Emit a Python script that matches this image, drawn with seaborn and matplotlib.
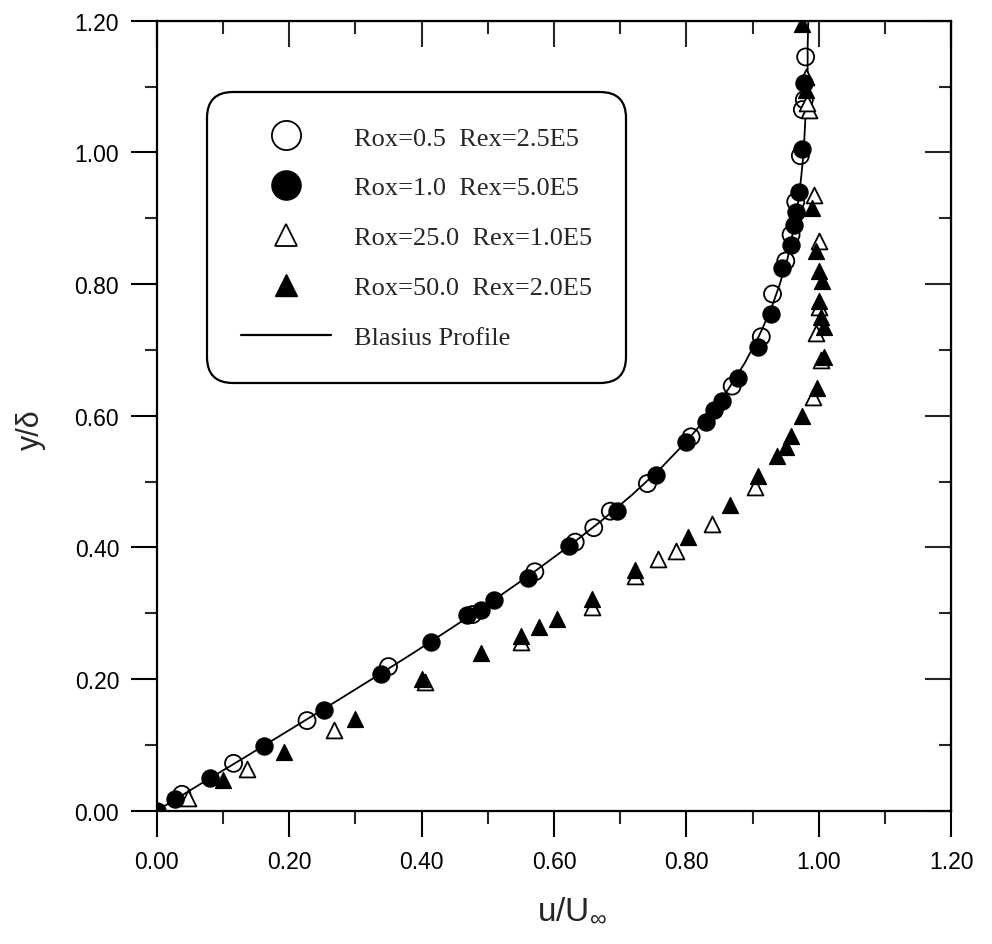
import matplotlib
matplotlib.use("Agg")
import matplotlib.pyplot as plt
import seaborn as sns
import pandas as pd
from matplotlib.lines import Line2D
from matplotlib.ticker import MultipleLocator, FormatStrFormatter, NullFormatter

# Rox=0.5 Rex=2.5E5 (open circles)
rox05_u = [0.038, 0.116, 0.227, 0.350, 0.477, 0.571, 0.632, 0.660, 0.685,
           0.741, 0.807, 0.869, 0.913, 0.930, 0.950, 0.958, 0.965, 0.972, 0.975, 0.978, 0.980]
rox05_y = [0.025, 0.072, 0.137, 0.219, 0.298, 0.363, 0.408, 0.430, 0.455,
           0.497, 0.568, 0.645, 0.720, 0.785, 0.835, 0.875, 0.925, 0.995, 1.065, 1.080, 1.145]

# Rox=1.0 Rex=5.0E5 (filled circles)
rox10_u = [0.000, 0.028, 0.081, 0.162, 0.253, 0.339, 0.414, 0.468, 0.489, 0.510,
           0.560, 0.623, 0.695, 0.754, 0.800, 0.830, 0.842, 0.853, 0.878, 0.908,
           0.928, 0.945, 0.958, 0.962, 0.966, 0.970, 0.975, 0.978]
rox10_y = [0.000, 0.018, 0.050, 0.098, 0.153, 0.207, 0.256, 0.297, 0.305, 0.320,
           0.354, 0.402, 0.455, 0.510, 0.560, 0.591, 0.608, 0.623, 0.657, 0.705,
           0.755, 0.825, 0.860, 0.890, 0.910, 0.940, 1.005, 1.105]

# Rox=25.0 Rex=1.0E5 (open triangles)
rox25_u = [0.047, 0.137, 0.267, 0.405, 0.550, 0.657, 0.723, 0.757, 0.784, 0.838,
           0.903, 0.991, 1.003, 0.995, 1.000, 1.000, 0.992, 0.985, 0.982, 0.980]
rox25_y = [0.020, 0.063, 0.122, 0.195, 0.256, 0.310, 0.357, 0.382, 0.394, 0.435,
           0.492, 0.629, 0.685, 0.725, 0.765, 0.865, 0.935, 1.065, 1.075, 1.115]

# Rox=50.0 Rex=2.0E5 (filled triangles)
rox50_u = [0.100, 0.192, 0.300, 0.400, 0.490, 0.550, 0.578, 0.604, 0.657, 0.723,
           0.803, 0.866, 0.908, 0.936, 0.950, 0.958, 0.975, 0.997, 1.007, 1.007,
           1.003, 1.000, 1.005, 1.000, 0.995, 0.990, 0.980, 0.975]
rox50_y = [0.046, 0.089, 0.140, 0.200, 0.240, 0.266, 0.279, 0.292, 0.321, 0.365,
           0.416, 0.465, 0.508, 0.539, 0.552, 0.569, 0.599, 0.642, 0.689, 0.735,
           0.750, 0.775, 0.805, 0.820, 0.850, 0.915, 1.095, 1.195]

# Blasius profile
blasius_u = [0.000, 0.065, 0.131, 0.196, 0.261, 0.325, 0.388, 0.449, 0.509, 0.566,
             0.620, 0.671, 0.718, 0.761, 0.799, 0.833, 0.863, 0.888, 0.909, 0.927,
             0.941, 0.953, 0.961, 0.968, 0.973, 0.977, 0.979, 0.981, 0.983, 0.983, 0.984]
blasius_y = [0.00, 0.04, 0.08, 0.12, 0.16, 0.20, 0.24, 0.28, 0.32, 0.36,
             0.40, 0.44, 0.48, 0.52, 0.56, 0.60, 0.64, 0.68, 0.72, 0.76,
             0.80, 0.84, 0.88, 0.92, 0.96, 1.00, 1.04, 1.08, 1.12, 1.16, 1.20]

labels = ["Rox=0.5  Rex=2.5E5", "Rox=1.0  Rex=5.0E5",
          "Rox=25.0  Rex=1.0E5", "Rox=50.0  Rex=2.0E5", "Blasius Profile"]

sns.set_style("ticks")
plt.rcParams['font.family'] = ['Liberation Sans', 'DejaVu Sans']
plt.rcParams['mathtext.fontset'] = 'custom'
plt.rcParams['mathtext.rm'] = 'Liberation Sans'

fig = plt.figure(figsize=(9.92, 9.45), dpi=100)
ax = fig.add_axes([0.158, 0.141, 0.801, 0.836])

blasius = pd.DataFrame({'u': blasius_u, 'y': blasius_y})
sns.lineplot(data=blasius, x='u', y='y', ax=ax, color='black', linewidth=1.3,
             sort=False, estimator=None, zorder=2)

sns.scatterplot(x=rox05_u, y=rox05_y, ax=ax, marker='o', s=150,
                facecolor='none', edgecolor='black', linewidth=1.3, zorder=3)
sns.scatterplot(x=rox10_u, y=rox10_y, ax=ax, marker='o', s=150,
                color='black', edgecolor='black', linewidth=1.0, zorder=4)
sns.scatterplot(x=rox25_u, y=rox25_y, ax=ax, marker='^', s=130,
                facecolor='white', edgecolor='black', linewidth=1.3, zorder=3)
sns.scatterplot(x=rox50_u, y=rox50_y, ax=ax, marker='^', s=130,
                color='black', edgecolor='black', linewidth=1.0, zorder=4)

ax.set_xlim(0, 1.2)
ax.set_ylim(0, 1.2)
for axis in (ax.xaxis, ax.yaxis):
    axis.set_major_locator(MultipleLocator(0.2))
    axis.set_minor_locator(MultipleLocator(0.1))
    axis.set_major_formatter(FormatStrFormatter('%.2f'))

for s in ax.spines.values():
    s.set_linewidth(1.6)
    s.set_color('black')
ax.tick_params(which='major', direction='out', length=19, width=1.5,
               labelsize=16.5, colors='black')
ax.tick_params(which='minor', direction='out', length=9, width=1.5)
ax.tick_params(axis='x', pad=9)
ax.tick_params(axis='y', pad=8)

# inward ticks on top and right, no labels
top = ax.secondary_xaxis('top')
right = ax.secondary_yaxis('right')
top.xaxis.set_major_locator(MultipleLocator(0.2))
top.xaxis.set_minor_locator(MultipleLocator(0.1))
right.yaxis.set_major_locator(MultipleLocator(0.2))
right.yaxis.set_minor_locator(MultipleLocator(0.1))
top.xaxis.set_major_formatter(NullFormatter())
right.yaxis.set_major_formatter(NullFormatter())
for sec in (top, right):
    sec.tick_params(which='major', direction='in', length=19, width=1.5)
    sec.tick_params(which='minor', direction='in', length=9, width=1.5)

ax.set_xlabel(r'u/U$_{\infty}$', fontsize=24)
ax.set_ylabel('y/δ', fontsize=22)
ax.xaxis.set_label_coords(0.523, -0.105)
ax.yaxis.set_label_coords(-0.14, 0.484)

handles = [
    Line2D([], [], marker='o', ls='none', ms=21, mfc='none', mec='black', mew=1.3),
    Line2D([], [], marker='o', ls='none', ms=21, mfc='black', mec='black'),
    Line2D([], [], marker='^', ls='none', ms=16, mfc='none', mec='black', mew=1.3),
    Line2D([], [], marker='^', ls='none', ms=16, mfc='black', mec='black'),
    Line2D([], [], color='black', lw=1.6),
]
leg = ax.legend(handles, labels, loc='upper left', bbox_to_anchor=(0.063, 0.91),
                prop={'family': 'Liberation Serif', 'size': 19},
                frameon=True, fancybox=True, edgecolor='black', framealpha=1,
                handlelength=3.4, handletextpad=0.87, labelspacing=1.0,
                borderpad=1.3, borderaxespad=0)
leg.get_frame().set_linewidth(1.6)
leg.get_frame().set_boxstyle('round', pad=0, rounding_size=1.0)

fig.savefig('out.png', dpi=100, facecolor='white')
